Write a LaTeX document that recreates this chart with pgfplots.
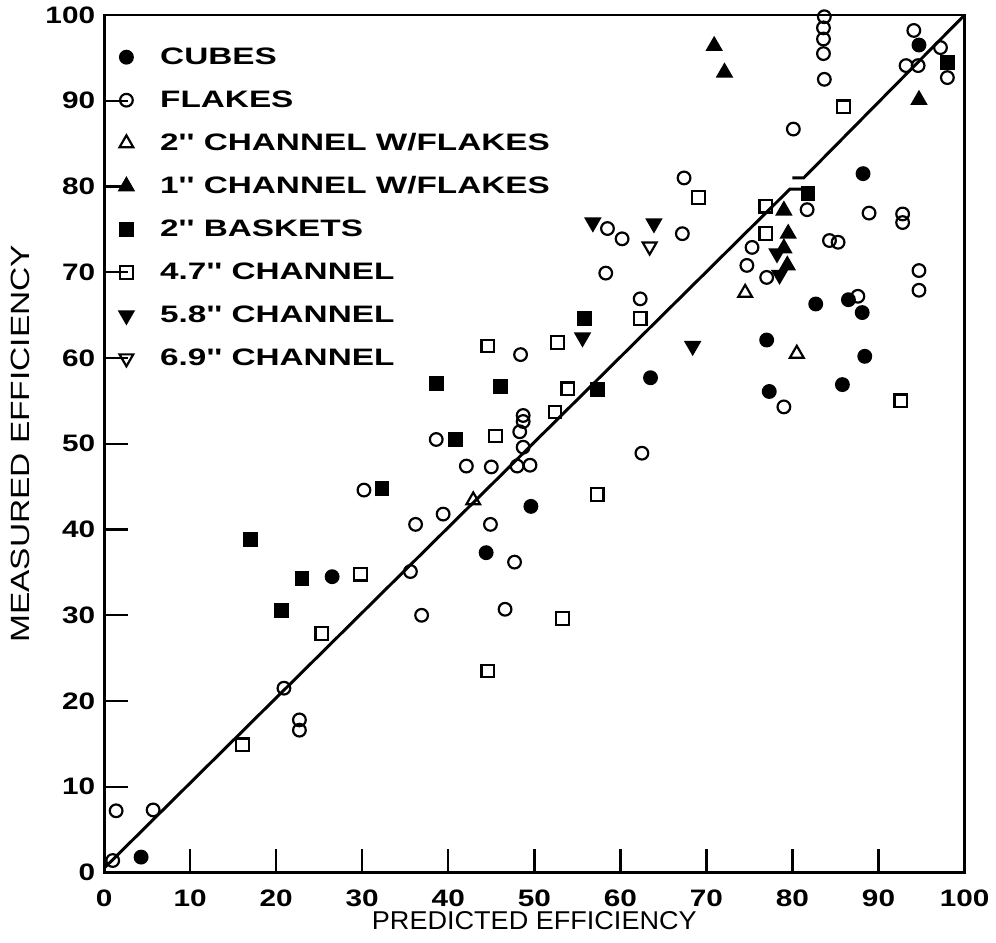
\documentclass[border=0pt]{standalone}
\usepackage{fontspec}
\setmainfont{Liberation Sans}
\newfontfamily\legfont[FakeStretch=1.4]{Liberation Sans}
\newfontfamily\tickfont[FakeStretch=1.25]{Liberation Sans}
\newfontfamily\xlabfont[FakeStretch=1.05]{Liberation Sans}
\newfontfamily\ylabfont[FakeStretch=1.27]{Liberation Sans}
\usepackage{pgfplots}
\pgfplotsset{compat=1.18}
\begin{document}
\begin{tikzpicture}
\begin{axis}[
  scale only axis,
  width=434pt, height=432.5pt,
  xmin=0, xmax=100, ymin=0, ymax=100,
  xtick={0,10,...,100}, ytick={0,10,...,100},
  xtick pos=bottom, ytick pos=left,
  tick align=inside,
  major tick length=12pt,
  every tick/.style={black, line width=1.2pt},
  axis line style={line width=1.5pt},
  /pgf/number format/assume math mode=true,
  ticklabel style={font=\tickfont\fontsize{12}{14}\selectfont\bfseries},
  xticklabel style={yshift=-5pt},
  yticklabel style={xshift=-1pt},
  xlabel={PREDICTED EFFICIENCY},
  ylabel={MEASURED EFFICIENCY},
  xlabel style={font=\xlabfont\fontsize{13}{15}\selectfont, at={(axis description cs:0.5,-0.0555)}, anchor=center},
  ylabel style={font=\ylabfont\fontsize{13.3}{15}\selectfont, at={(axis description cs:-0.0968,0.5)}, anchor=center},
  legend style={draw=none, fill=none, at={(rel axis cs:0.015,0.964)}, anchor=north west,
    font=\legfont\fontsize{12}{14}\selectfont\bfseries, row sep=10.7pt, inner sep=0pt,
    nodes={inner sep=0pt, text height=9pt, text depth=2pt}},
  legend cell align=left,
  legend image code/.code={\path (-4pt,0pt) (16.5pt,0pt); \draw[#1] plot coordinates {(0pt,0pt)};},
  every axis plot/.append style={only marks, black, line width=1.1pt, mark size=3.2pt},
]
% 1:1 line with small jog
\addplot[forget plot, no marks, sharp plot, line width=1.5pt] coordinates {(0,0.5) (79.7,79.7) (81.6,79.7)};
\addplot[forget plot, no marks, sharp plot, line width=1.5pt] coordinates {(80.0,81.0) (81.3,81.0) (100,100)};
% CUBES
\addplot[mark=*, mark options={fill=black}] coordinates {
(4.3,1.8) (26.5,34.5) (44.4,37.3) (49.6,42.7) (63.5,57.7) (77.0,62.1) (77.3,56.1)
(82.7,66.3) (85.8,56.9) (88.1,65.3) (88.4,60.2) (88.2,81.5) (86.5,66.8) (94.7,96.5)};
\addlegendentry{CUBES}
% FLAKES
\addplot[mark=o] coordinates {
(1.0,1.4) (1.4,7.2) (5.7,7.3) (20.9,21.5) (22.7,17.8) (22.7,16.6) (30.2,44.6)
(35.6,35.1) (36.2,40.6) (36.9,30.0) (38.6,50.5) (39.4,41.8) (42.1,47.4) (44.9,40.6)
(45.0,47.3) (46.6,30.7) (47.7,36.2) (48.0,47.4) (49.5,47.5) (48.7,49.6) (48.3,51.4)
(48.7,52.6) (48.7,53.3) (48.4,60.4) (62.5,48.9) (58.5,75.1) (60.2,73.9) (58.3,69.9)
(62.3,66.9) (67.2,74.5) (67.4,81.0) (80.1,86.7) (81.7,77.3) (84.3,73.7) (85.3,73.5)
(75.3,72.9) (74.7,70.8) (77.0,69.4) (88.9,76.9) (92.8,76.8) (92.8,75.8) (94.7,70.2)
(94.7,67.9) (87.6,67.2) (79.0,54.3) (83.7,99.8) (83.6,98.5) (83.6,97.2) (83.6,95.5)
(83.7,92.5) (94.1,98.2) (97.2,96.2) (93.2,94.1) (94.6,94.1) (98.0,92.7)};
\addlegendentry{FLAKES}
% 2'' CHANNEL W/FLAKES
\addplot[mark=triangle, mark size=4pt] coordinates {(42.9,43.4) (74.5,67.6) (80.5,60.5)};
\addlegendentry{2'' CHANNEL W/FLAKES}
% 1'' CHANNEL W/FLAKES
\addplot[mark=triangle*, mark size=4pt, mark options={fill=black}] coordinates {
(70.9,96.4) (72.1,93.3) (94.7,90.1) (79.0,77.2) (79.5,74.5) (79.0,72.8) (79.4,70.8)};
\addlegendentry{1'' CHANNEL W/FLAKES}
% 2'' BASKETS
\addplot[mark=square*, mark options={fill=black}] coordinates {
(32.3,44.8) (17.0,38.8) (23.0,34.3) (20.6,30.6) (38.6,57.0) (46.1,56.7) (40.8,50.5)
(55.8,64.6) (57.3,56.3) (81.8,79.2) (98.0,94.5)};
\addlegendentry{2'' BASKETS}
% 4.7'' CHANNEL
\addplot[mark=square] coordinates {
(29.8,34.8) (25.3,27.9) (16.1,14.9) (44.6,61.4) (52.7,61.8) (53.9,56.4) (52.4,53.7)
(45.5,50.9) (57.3,44.1) (53.3,29.6) (44.6,23.5) (62.3,64.6) (69.1,78.7) (76.9,77.7)
(76.9,74.5) (85.9,89.3) (92.6,55.0)};
\addlegendentry{4.7'' CHANNEL}
% 5.8'' CHANNEL
\addplot[mark=triangle*, mark size=4pt, mark options={fill=black, rotate=180}] coordinates {
(55.6,62.4) (68.4,61.4) (56.8,75.8) (63.9,75.7) (78.5,69.7) (78.2,72.2)};
\addlegendentry{5.8'' CHANNEL}
% 6.9'' CHANNEL
\addplot[mark=triangle, mark size=4pt, mark options={rotate=180}] coordinates {(63.4,73.0)};
\addlegendentry{6.9'' CHANNEL}
\end{axis}
\path ([xshift=-52.5pt,yshift=-35.5pt]current axis.south west) rectangle ([xshift=11.5pt,yshift=6.5pt]current axis.north east);
\end{tikzpicture}
\end{document}
